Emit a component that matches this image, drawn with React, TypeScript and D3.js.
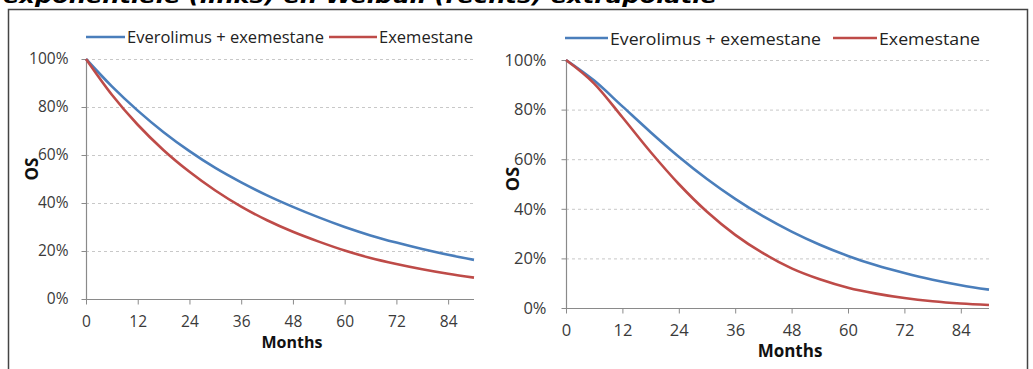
import * as d3 from "d3";
import { useEffect, useRef } from "react";

const W = 1033;
const H = 369;

// months on the x axis, percentages on the y axis
const months = [0, 6, 12, 18, 24, 30, 36, 42, 48, 54, 60, 66, 72, 78, 84, 90];
const xTicks = [0, 12, 24, 36, 48, 60, 72, 84];
const yTicks = [0, 20, 40, 60, 80, 100];

// left panel: exponential extrapolation
const expEverolimus = [100, 88.6, 78.5, 69.5, 61.6, 54.6, 48.6, 43.2, 38.4, 34.0, 30.0, 26.5, 23.5, 20.8, 18.4, 16.3];
const expExemestane = [100, 85.1, 72.6, 62.0, 53.0, 45.2, 38.5, 32.8, 28.0, 23.9, 20.2, 17.1, 14.6, 12.4, 10.5, 8.9];

// right panel: Weibull extrapolation
const weiEverolimus = [100, 91.7, 81.3, 70.9, 61.0, 52.0, 44.0, 36.9, 30.8, 25.5, 21.0, 17.2, 14.1, 11.4, 9.2, 7.4];
const weiExemestane = [100, 90.5, 76.9, 62.9, 50.0, 38.8, 29.5, 22.0, 16.0, 11.6, 8.2, 5.8, 4.0, 2.7, 1.8, 1.2];

const seriesNames = ["Everolimus + exemestane", "Exemestane"];
const colors = ["#4a7ebb", "#be4b48"];

const title = "exponentiële (links) en Weibull (rechts) extrapolatie";

const font = "'Open Sans', 'DejaVu Sans', sans-serif";

type Panel = {
  x0: number;
  x1: number;
  yTop: number;
  yBot: number;
  fs: number;
  labelX: number;
  osX: number;
  osY: number;
  monthsX: number;
  legend: number[]; // line start, line end, text start, text width for each series
  legendY: number;
  data: number[][];
};

const panels: Panel[] = [
  {
    x0: 86, x1: 474, yTop: 59, yBot: 299, fs: 15.5, labelX: 68,
    osX: 31, osY: 169, monthsX: 292,
    legend: [86, 125, 127, 197, 329, 377, 379, 94], legendY: 37,
    data: [expEverolimus, expExemestane],
  },
  {
    x0: 566, x1: 989, yTop: 60, yBot: 308, fs: 16.5, labelX: 546,
    osX: 512, osY: 179, monthsX: 790,
    legend: [565, 608, 610, 211, 833, 877, 879, 101], legendY: 38,
    data: [weiEverolimus, weiExemestane],
  },
];

function App() {
  const ref = useRef<SVGSVGElement>(null);

  useEffect(() => {
    const svg = d3.select(ref.current);
    svg.selectAll("*").remove();

    svg.append("rect").attr("width", W).attr("height", H).attr("fill", "#fff");

    // title line of the document, cut off by the top edge
    svg
      .append("text")
      .attr("x", 3)
      .attr("y", 3)
      .attr("font-family", "'DejaVu Sans', sans-serif")
      .attr("font-weight", "bold")
      .attr("font-style", "italic")
      .attr("font-size", 20)
      .attr("textLength", 714)
      .attr("lengthAdjust", "spacingAndGlyphs")
      .attr("fill", "#000")
      .text(title);

    // frame
    svg
      .append("path")
      .attr("d", `M8.5,${H}V9.5H1027.5V${H}`)
      .attr("fill", "none")
      .attr("stroke", "#444")
      .attr("stroke-width", 1.5);

    panels.forEach((p) => {
      const x = d3.scaleLinear().domain([0, 90]).range([p.x0, p.x1]);
      const y = d3.scaleLinear().domain([0, 100]).range([p.yBot, p.yTop]);
      const g = svg.append("g").attr("font-family", font);

      // gridlines
      g.selectAll(".grid")
        .data(yTicks.filter((t) => t > 0))
        .enter()
        .append("line")
        .attr("x1", p.x0)
        .attr("x2", p.x1)
        .attr("y1", (d) => y(d) + 0.5)
        .attr("y2", (d) => y(d) + 0.5)
        .attr("stroke", "#c8c8c8")
        .attr("stroke-dasharray", "3,3");

      // y axis
      const ya = g
        .append("g")
        .attr("transform", `translate(${p.x0 + 0.5},0)`)
        .call(
          d3.axisLeft(y).tickValues(yTicks).tickSize(5).tickPadding(p.x0 - p.labelX - 5)
            .tickFormat((d) => `${d}%`)
        );
      // x axis
      const xa = g
        .append("g")
        .attr("transform", `translate(0,${p.yBot + 0.5})`)
        .call(d3.axisBottom(x).tickValues(xTicks).tickSize(5).tickPadding(11));

      [ya, xa].forEach((a) => {
        a.select(".domain").attr("stroke", "#8a8a8a").attr("stroke-width", 1.2);
        a.selectAll(".tick line").attr("stroke", "#8a8a8a");
        a.selectAll(".tick text")
          .attr("fill", "#3a3a3a")
          .attr("font-size", p.fs)
          .attr("font-family", font);
      });
      ya.select(".domain").attr("d", `M0,${p.yBot}V${p.yTop}`);
      xa.select(".domain").attr("d", `M${p.x0},0H${p.x1}`);

      // axis titles
      g.append("text")
        .attr("transform", `translate(${p.osX},${p.osY}) rotate(-90)`)
        .attr("text-anchor", "middle")
        .attr("dominant-baseline", "central")
        .attr("font-weight", "bold")
        .attr("font-size", p.fs + 1.5)
        .attr("fill", "#111")
        .text("OS");
      g.append("text")
        .attr("x", p.monthsX)
        .attr("y", p.yBot + 49)
        .attr("text-anchor", "middle")
        .attr("font-weight", "bold")
        .attr("font-size", p.fs + 0.5)
        .attr("fill", "#111")
        .text("Months");

      // curves
      const line = d3
        .line<number>()
        .x((_, i) => x(months[i]))
        .y((d) => y(d))
        .curve(d3.curveMonotoneX);
      p.data.forEach((s, i) => {
        g.append("path")
          .attr("d", line(s))
          .attr("fill", "none")
          .attr("stroke", colors[i])
          .attr("stroke-width", 2.6);
      });

      // legend
      seriesNames.forEach((name, i) => {
        const [a, b, t, w] = p.legend.slice(i * 4, i * 4 + 4);
        g.append("line")
          .attr("x1", a)
          .attr("x2", b)
          .attr("y1", p.legendY)
          .attr("y2", p.legendY)
          .attr("stroke", colors[i])
          .attr("stroke-width", 2.6);
        g.append("text")
          .attr("x", t)
          .attr("y", p.legendY)
          .attr("dominant-baseline", "central")
          .attr("font-size", p.fs)
          .attr("textLength", w)
          .attr("lengthAdjust", "spacingAndGlyphs")
          .attr("fill", "#222")
          .text(name);
      });
    });
  }, []);

  return (
    <svg
      ref={ref}
      width={W}
      height={H}
      style={{ position: "absolute", left: 0, top: 0 }}
    />
  );
}

export default App;
